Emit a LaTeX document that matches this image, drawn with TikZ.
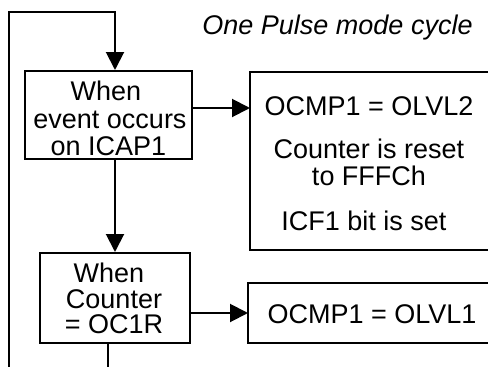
\documentclass[tikz,border=0pt]{standalone}
\usepackage{fontspec}
\setmainfont{Liberation Sans}
\usetikzlibrary{arrows.meta}
\begin{document}
\begin{tikzpicture}[x=1pt,y=-1pt,
  box/.style={draw,line width=2pt,minimum width=#1,inner sep=0pt},
  openbox/.style={minimum width=#1,inner sep=0pt,outer sep=0pt},
  lbl/.style={anchor=base,inner sep=0pt,font=\fontsize{27}{28}\selectfont},
  conn/.style={line width=2pt},
  arr/.style={conn,-{Triangle[length=18pt,width=18pt]}}]
\useasboundingbox (0,0) rectangle (488,367);
% boxes (the right-hand boxes run off the picture's right edge)
\node[openbox=238pt,minimum height=178pt] (box2) at (369,161) {};
\draw[conn] (box2.north east) -- (box2.north west) -- (box2.south west) -- (box2.south east);
\node[box=167pt,minimum height=88pt] (box1) at (108.5,115) {};
\node[box=150pt,minimum height=90pt] (box3) at (115,298) {};
\node[openbox=240pt,minimum height=60pt] (box4) at (368,313) {};
\draw[conn] (box4.north east) -- (box4.north west) -- (box4.south west) -- (box4.south east);
% labels
\node[lbl,font=\fontsize{27}{28}\selectfont\itshape] (title) at (337.5,34) {One Pulse mode cycle};
\node[lbl] (t1a) at (106,100) {When};
\node[lbl] (t1b) at (110,128) {event occurs};
\node[lbl] (t1c) at (108.5,155) {on ICAP1};
\node[lbl] (t2a) at (369,115) {OCMP1 = OLVL2};
\node[lbl] (t2b) at (369,158) {Counter is reset};
\node[lbl] (t2c) at (369,185) {to FFFCh};
\node[lbl] (t2d) at (364,230) {ICF1 bit is set};
\node[lbl] (t3a) at (109,282) {When};
\node[lbl] (t3b) at (114,308) {Counter};
\node[lbl] (t3c) at (114,333) {= OC1R};
\node[lbl] (t4a) at (372,323) {OCMP1 = OLVL1};
% connectors
\coordinate (a1) at ([yshift=7pt]box1.east);
\draw[arr] (a1) -- (a1 -| box2.west);
\draw[arr] (box3.east |- box4.west) -- (box4.west);
\draw[arr] (box1.south -| box3.north) -- (box3.north);
\coordinate (loopend) at (8.5,368);
\coordinate (tl) at (8.5,12);
\draw[arr] (loopend) -- (tl) -| (box1.north -| box3.north);
\coordinate (exit) at (108,368);
\draw[conn] (box3.south -| exit) -- (exit);
\end{tikzpicture}
\end{document}
